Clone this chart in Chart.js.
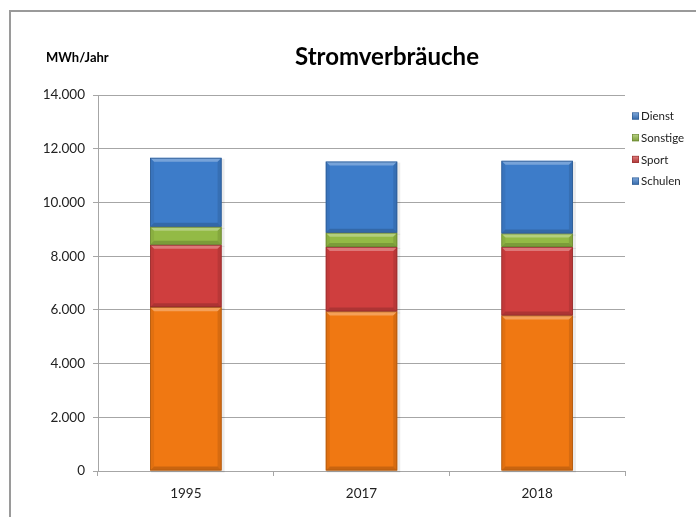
<!DOCTYPE html>
<html>
<head>
<meta charset="utf-8">
<script src="https://cdn.jsdelivr.net/npm/chart.js@4.4.0/dist/chart.umd.min.js"></script>
<style>
html,body{margin:0;padding:0;background:#fff;}
#wrap{width:696px;height:517px;position:relative;}
</style>
</head>
<body>
<div id="wrap"><canvas id="c" width="696" height="517"></canvas></div>
<script>
const categories = ['1995', '2017', '2018'];
const schulen  = [6100, 5940, 5790];
const sport    = [2320, 2400, 2550];
const sonstige = [670, 530, 500];
const dienst   = [2570, 2650, 2710];
const yTicks = [0, 2000, 4000, 6000, 8000, 10000, 12000, 14000];
const titleText = 'Stromverbräuche';
const unitText = 'MWh/Jahr';
const seriesNames = ['Schulen', 'Sport', 'Sonstige', 'Dienst'];
const barColors = ['#F07812', '#CF3E3E', '#93BA45', '#3D7CC9'];
const legendColors = ['#3D7CC9', '#CF3E3E', '#93BA45', '#3D7CC9'];

const FONT = 'Lato, "Open Sans", sans-serif';

function fmt(v){ return String(v).replace(/\B(?=(\d{3})+(?!\d))/g, '.'); }

function shade(hex, amt){
  const n = parseInt(hex.slice(1), 16);
  let r = (n >> 16) & 255, g = (n >> 8) & 255, b = n & 255;
  if (amt >= 0){ r += (255 - r) * amt; g += (255 - g) * amt; b += (255 - b) * amt; }
  else { r *= (1 + amt); g *= (1 + amt); b *= (1 + amt); }
  return 'rgb(' + Math.round(r) + ',' + Math.round(g) + ',' + Math.round(b) + ')';
}

const decor = {
  id: 'decor',
  beforeDraw(chart){
    const ctx = chart.ctx;
    ctx.save();
    ctx.fillStyle = '#fff';
    ctx.fillRect(0,0,chart.width,chart.height);
    ctx.strokeStyle = '#9a9a9a';
    ctx.lineWidth = 2;
    ctx.beginPath();
    ctx.moveTo(10, chart.height + 5);
    ctx.lineTo(10, 11);
    ctx.lineTo(chart.width + 5, 11);
    ctx.stroke();
    ctx.restore();
  },
  afterDraw(chart){
    const ctx = chart.ctx;
    ctx.save();
    ctx.fillStyle = '#000';
    ctx.textBaseline = 'alphabetic';
    ctx.textAlign = 'center';
    ctx.font = 'bold 24px ' + FONT;
    ctx.fillText(titleText, 387, 65);
    ctx.textAlign = 'left';
    ctx.font = 'bold 13px ' + FONT;
    ctx.fillText(unitText, 46, 62);
    // legend (reverse order of datasets)
    ctx.font = '11.5px ' + FONT;
    ctx.textBaseline = 'middle';
    const ds = chart.data.datasets;
    for (let k = 0; k < ds.length; k++){
      const i = ds.length - 1 - k;
      const cy = 116 + k * 21.7;
      const col = ds[i].legendColor;
      const g = ctx.createLinearGradient(0, cy-3.5, 0, cy+3.5);
      g.addColorStop(0, shade(col, 0.35));
      g.addColorStop(1, shade(col, -0.15));
      ctx.fillStyle = g;
      ctx.fillRect(632, cy - 3.5, 7, 7);
      ctx.strokeStyle = shade(col, -0.3);
      ctx.lineWidth = 0.6;
      ctx.strokeRect(632.3, cy - 3.2, 6.4, 6.4);
      ctx.fillStyle = '#222';
      ctx.fillText(ds[i].label, 641, cy + 0.5);
    }
    ctx.restore();
  }
};

const bevel = {
  id: 'bevel',
  beforeDatasetsDraw(chart){
    const ctx = chart.ctx;
    ctx.save();
    chart.data.datasets.forEach((d, di) => {
      const meta = chart.getDatasetMeta(di);
      meta.data.forEach(el => {
        const p = el.getProps(['x','y','base','width'], true);
        const l = p.x - p.width/2, t = Math.min(p.y, p.base), h = Math.abs(p.base - p.y);
        ctx.fillStyle = 'rgba(0,0,0,0.08)';
        ctx.fillRect(l + 1, t + 1, p.width + 2, h + 1);
      });
    });
    ctx.restore();
  },
  afterDatasetsDraw(chart){
    const ctx = chart.ctx;
    ctx.save();
    chart.data.datasets.forEach((d, di) => {
      const meta = chart.getDatasetMeta(di);
      meta.data.forEach(el => {
        const p = el.getProps(['x','y','base','width'], true);
        const l = p.x - p.width/2, r = p.x + p.width/2;
        const t = Math.min(p.y, p.base), bt = Math.max(p.y, p.base);
        const b = Math.min(4, (bt - t)/2);
        const poly = (pts, fill) => {
          ctx.beginPath();
          ctx.moveTo(pts[0][0], pts[0][1]);
          for (let i = 1; i < pts.length; i++) ctx.lineTo(pts[i][0], pts[i][1]);
          ctx.closePath();
          ctx.fillStyle = fill;
          ctx.fill();
        };
        poly([[l,t],[r,t],[r-b,t+b],[l+b,t+b]], 'rgba(255,255,255,0.30)');
        poly([[l,bt],[r,bt],[r-b,bt-b],[l+b,bt-b]], 'rgba(0,0,0,0.16)');
        poly([[l,t],[l+b,t+b],[l+b,bt-b],[l,bt]], 'rgba(0,0,0,0.06)');
        poly([[r,t],[r-b,t+b],[r-b,bt-b],[r,bt]], 'rgba(0,0,0,0.10)');
        ctx.strokeStyle = shade(d.backgroundColor, -0.3);
        ctx.lineWidth = 0.7;
        ctx.strokeRect(l + 0.4, t + 0.4, r - l - 0.8, bt - t - 0.8);
      });
    });
    ctx.restore();
  }
};

const values = [schulen, sport, sonstige, dienst];
const datasets = seriesNames.map((name, i) => ({
  label: name,
  data: values[i],
  backgroundColor: barColors[i],
  legendColor: legendColors[i],
  borderWidth: 0,
  categoryPercentage: 1.0,
  barPercentage: 0.407
}));

new Chart(document.getElementById('c'), {
  type: 'bar',
  data: { labels: categories, datasets: datasets },
  options: {
    responsive: false,
    animation: false,
    layout: { padding: { left: 0, top: 95, right: 71, bottom: 0 } },
    plugins: {
      legend: { display: false },
      title: { display: false },
      tooltip: { enabled: false }
    },
    scales: {
      x: {
        stacked: true,
        offset: true,
        grid: { display: true, drawOnChartArea: false, drawTicks: true, tickLength: 5, color: '#a6a6a6', offset: true },
        border: { display: true, color: '#a6a6a6', width: 1 },
        ticks: { color: '#222', font: { family: FONT, size: 13.5 }, padding: 10 },
        afterFit(s){ s.height = 46; }
      },
      y: {
        stacked: true,
        min: 0,
        max: 14000,
        afterBuildTicks(s){ s.ticks = yTicks.map(v => ({ value: v })); },
        grid: { color: '#a6a6a6', tickLength: 5, drawTicks: true },
        border: { display: true, color: '#a6a6a6', width: 1 },
        ticks: { color: '#222', font: { family: FONT, size: 13.5 }, padding: 8, callback: v => fmt(v) },
        afterFit(s){ s.width = 98; }
      }
    }
  },
  plugins: [decor, bevel]
});
</script>
</body>
</html>
